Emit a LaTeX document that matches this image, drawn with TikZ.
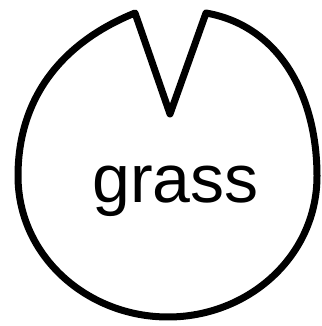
\documentclass[tikz,border=0pt]{standalone}
\usepackage{fontspec}
\setmainfont{Liberation Sans}
\begin{document}
\begin{tikzpicture}[x=1pt,y=1pt,
  outline/.style={draw=black,line width=7pt,line join=round},
  label/.style={inner sep=0pt,anchor=base west,font=\fontsize{68}{82}\selectfont}]
\useasboundingbox (0,0) rectangle (321,326);
\coordinate (A) at (135,313);
\coordinate (B) at (170,212);
\coordinate (C) at (206,313);
\coordinate (R) at (317,150);
\coordinate (D) at (168,9);
\coordinate (E) at (18,150);
\draw[outline] (A) -- (B) -- (C)
  to[out=-10,in=90] (R)
  to[out=-90,in=0] (D)
  to[out=180,in=-90] (E)
  to[out=90,in=202] (A) -- cycle;
\node[label] (t) at (92,123) {grass};
\end{tikzpicture}
\end{document}
